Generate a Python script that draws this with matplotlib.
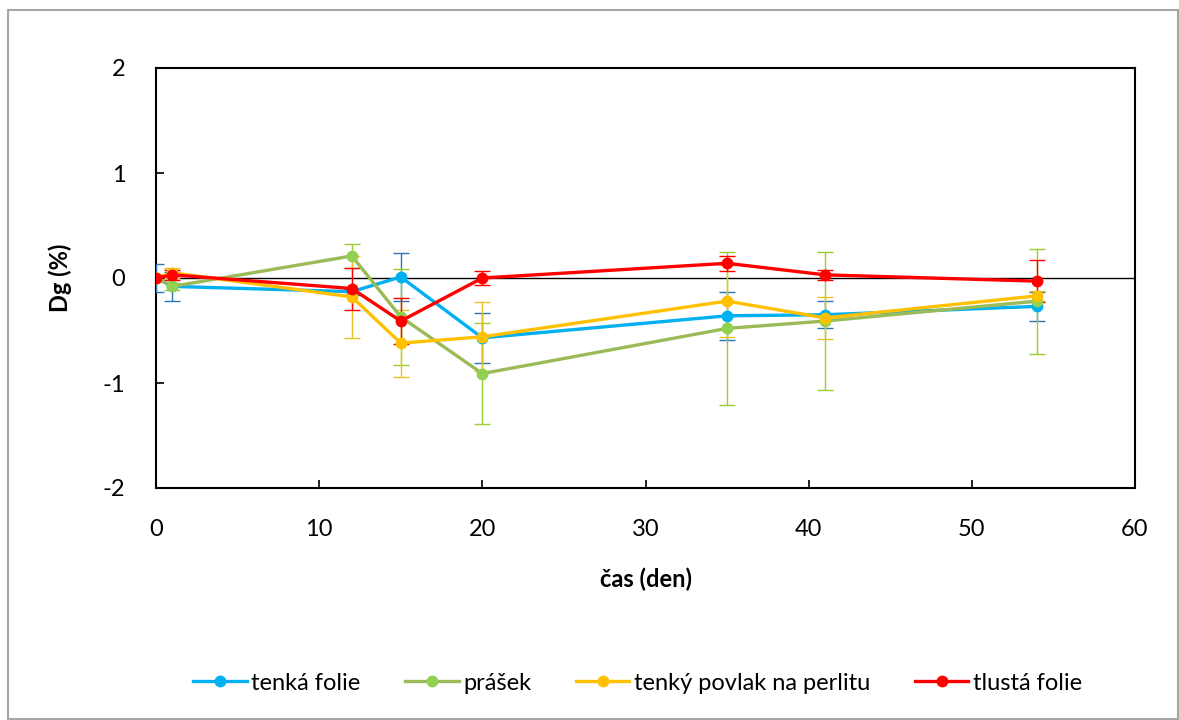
import matplotlib.pyplot as plt
from matplotlib.patches import Rectangle

plt.rcParams['font.family'] = ['Lato', 'DejaVu Sans']
plt.rcParams['axes.unicode_minus'] = False

# time points (days)
cas = [0, 1, 12, 15, 20, 35, 41, 54]

tenka_folie = [0, -0.08, -0.13, 0.01, -0.57, -0.36, -0.35, -0.27]
tenka_folie_err = [0.13, 0.14, 0.03, 0.23, 0.24, 0.23, 0.13, 0.14]

prasek = [0, -0.08, 0.21, -0.37, -0.91, -0.48, -0.41, -0.22]
prasek_err = [0.02, 0.03, 0.11, 0.46, 0.48, 0.73, 0.66, 0.50]

povlak_perlit = [0, 0.05, -0.18, -0.62, -0.56, -0.22, -0.38, -0.17]
povlak_perlit_err = [0.02, 0.05, 0.39, 0.32, 0.33, 0.34, 0.20, 0.05]

tlusta_folie = [0, 0.03, -0.10, -0.41, 0.0, 0.14, 0.03, -0.03]
tlusta_folie_err = [0.02, 0.05, 0.20, 0.22, 0.07, 0.07, 0.05, 0.20]

series = [
    ('tenká folie', tenka_folie, tenka_folie_err, '#00B0F0', '#00B0F0', '#2E75B6'),
    ('prášek', prasek, prasek_err, '#9BBB59', '#92D050', '#9ACD32'),
    ('tenký povlak na perlitu', povlak_perlit, povlak_perlit_err, '#FFC000', '#FFC000', '#E6C229'),
    ('tlustá folie', tlusta_folie, tlusta_folie_err, '#FF0000', '#FF0000', '#FF0000'),
]

fig = plt.figure(figsize=(11.79, 7.2), dpi=100)
fig.patches.append(Rectangle((8 / 1179, 1 - 719 / 720), 1170 / 1179, 709 / 720,
                             transform=fig.transFigure, fill=False,
                             edgecolor='#A6A6A6', linewidth=1.5))
ax = fig.add_axes([156 / 1179, 1 - 488 / 720, 979 / 1179, 420 / 720])

ax.axhline(0, color='black', linewidth=1.0, zorder=1)

for name, vals, err, lc, mc, ec in series:
    ax.errorbar(cas, vals, yerr=err, color=lc, linewidth=2.4, marker='o',
                markersize=7.5, markerfacecolor=mc, markeredgecolor=mc,
                ecolor=ec, elinewidth=1.0, capsize=6, capthick=1.0,
                label=name, zorder=3)

ax.set_xlim(0, 60)
ax.set_ylim(-2, 2)
ax.set_xticks([0, 10, 20, 30, 40, 50, 60])
ax.set_yticks([-2, -1, 0, 1, 2])
ax.tick_params(direction='in', length=6, width=1.2, labelsize=17)
ax.tick_params(axis='x', pad=22)
ax.tick_params(axis='y', pad=22)
for s in ax.spines.values():
    s.set_linewidth(1.5)

ax.set_xlabel('čas (den)', fontsize=17, fontweight='bold', labelpad=20)
ax.set_ylabel('Dg (%)', fontsize=17, fontweight='bold', labelpad=22)

handles, labels = ax.get_legend_handles_labels()
handles = [h[0] for h in handles]
fig.legend(handles, labels, loc='center', bbox_to_anchor=(0.541, 1 - 683 / 720),
           ncol=4, frameon=False, fontsize=17, handlelength=2.25,
           handletextpad=0.2, columnspacing=1.9)

fig.savefig('out.png', dpi=100)
